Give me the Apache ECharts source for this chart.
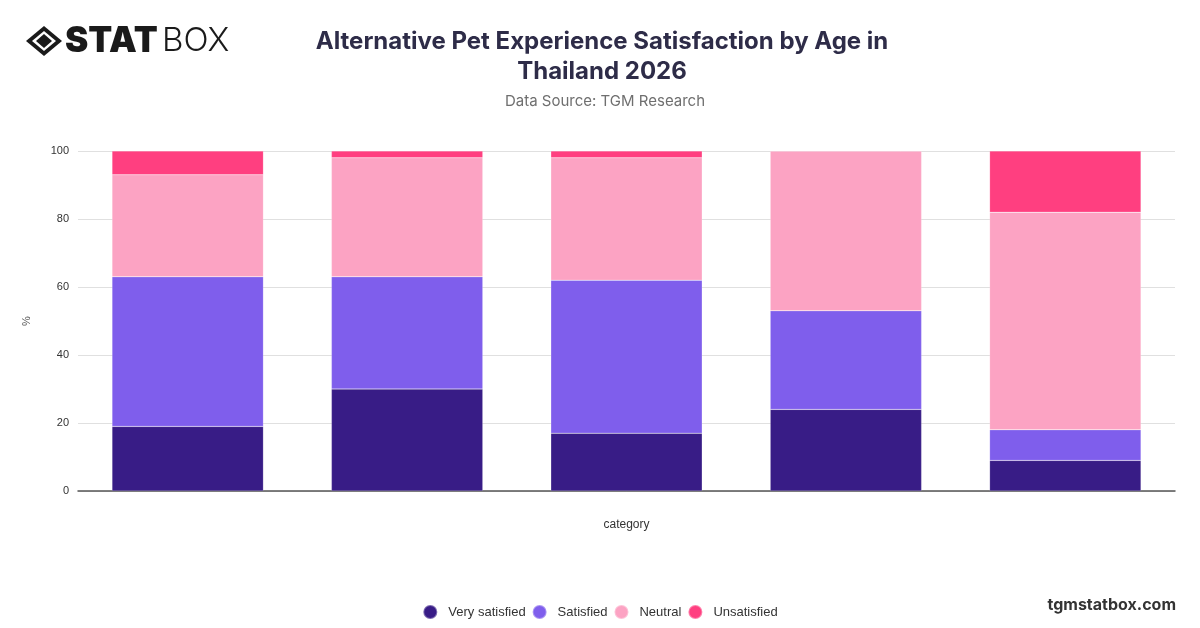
<!DOCTYPE html>
<html>
<head>
<meta charset="utf-8">
<script src="https://cdn.jsdelivr.net/npm/echarts@6/dist/echarts.min.js"></script>
<style>
html,body{margin:0;padding:0;background:#fff;}
#chart{width:1200px;height:628px;}
</style>
</head>
<body>
<div id="chart"></div>
<script>
const categories = ["Group 1", "Group 2", "Group 3", "Group 4", "Group 5"];
const seriesNames = ["Very satisfied", "Satisfied", "Neutral", "Unsatisfied"];
const verySatisfied = [19, 30, 17, 24, 9];
const satisfied = [44, 33, 45, 29, 9];
const neutral = [30, 35, 36, 47, 64];
const unsatisfied = [7, 2, 2, 0, 18];
const yTicks = [0, 20, 40, 60, 80, 100];
const colors = ["#381C86", "#7F5EEC", "#FCA3C3", "#FF3F80"];

const values = [verySatisfied, satisfied, neutral, unsatisfied];

const chart = echarts.init(document.getElementById('chart'), null, {renderer: 'canvas'});
chart.setOption({
  animation: false,
  backgroundColor: '#ffffff',
  color: colors,
  title: [
    {
      text: 'Alternative Pet Experience Satisfaction by Age in\nThailand 2026',
      left: 597, top: 22, textAlign: 'center',
      textStyle: {fontFamily: 'Inter', fontSize: 24, fontWeight: 'bold', color: '#2E2C48', lineHeight: 30, letterSpacing: -0.3}
    },
    {
      text: 'Data Source: TGM Research',
      left: 600, top: 89, textAlign: 'center',
      textStyle: {fontFamily: 'Inter', fontSize: 15, fontWeight: 'normal', color: '#6f6f6f'}
    }
  ],
  graphic: [
    {
      type: 'group', left: 26, top: 24,
      children: [
        {type: 'polygon', shape: {points: [[18,0],[36,15],[18,30],[0,15]]}, style: {fill: '#1a1a1a'}},
        {type: 'polygon', shape: {points: [[18,5],[30,15],[18,25],[6,15]]}, style: {fill: '#ffffff'}},
        {type: 'polygon', shape: {points: [[18,8],[26,15],[18,22],[10,15]]}, style: {fill: '#1a1a1a'}},
        {type: 'text', left: 39, top: -2, style: {text: 'STAT', font: '900 35px Inter', fill: '#1a1a1a'}},
        {type: 'text', left: 136, top: -1, style: {text: 'BOX', font: '300 33px Inter', fill: '#1a1a1a', letterSpacing: -1.5}}
      ]
    },
    {
      type: 'text', right: 24, top: 597,
      style: {text: 'tgmstatbox.com', font: 'bold 16px Inter', fill: '#333333'}
    }
  ],
  legend: {
    bottom: 3, left: 'center',
    icon: 'circle', itemWidth: 14, itemHeight: 14, itemGap: 6,
    textStyle: {fontFamily: 'Liberation Sans', fontSize: 13, color: '#333', padding: [0, 0, 0, 6]},
    data: seriesNames
  },
  grid: {left: 78, right: 25, top: 151, bottom: 137, containLabel: false},
  xAxis: {
    type: 'category',
    data: categories,
    name: 'category', nameLocation: 'middle', nameGap: 28,
    nameTextStyle: {fontFamily: 'Liberation Sans', fontSize: 12, color: '#333'},
    axisLine: {lineStyle: {color: '#555', width: 1.5}},
    axisTick: {show: false},
    axisLabel: {show: false}
  },
  yAxis: {
    type: 'value', min: yTicks[0], max: yTicks[yTicks.length - 1], interval: 20,
    name: '%', nameLocation: 'middle', nameGap: 46,
    nameTextStyle: {fontFamily: 'Liberation Sans', fontSize: 11, color: '#555'},
    axisLabel: {fontFamily: 'Liberation Sans', fontSize: 11, color: '#333', margin: 9},
    axisLine: {show: false}, axisTick: {show: false},
    splitLine: {lineStyle: {color: '#e0e0e0'}}
  },
  series: seriesNames.map((n, i) => ({
    name: n, type: 'bar', stack: 'total', barWidth: '69%',
    data: values[i],
    itemStyle: {color: colors[i], borderColor: 'rgba(255,255,255,0.35)', borderWidth: 0.5}
  }))
});
</script>
</body>
</html>
